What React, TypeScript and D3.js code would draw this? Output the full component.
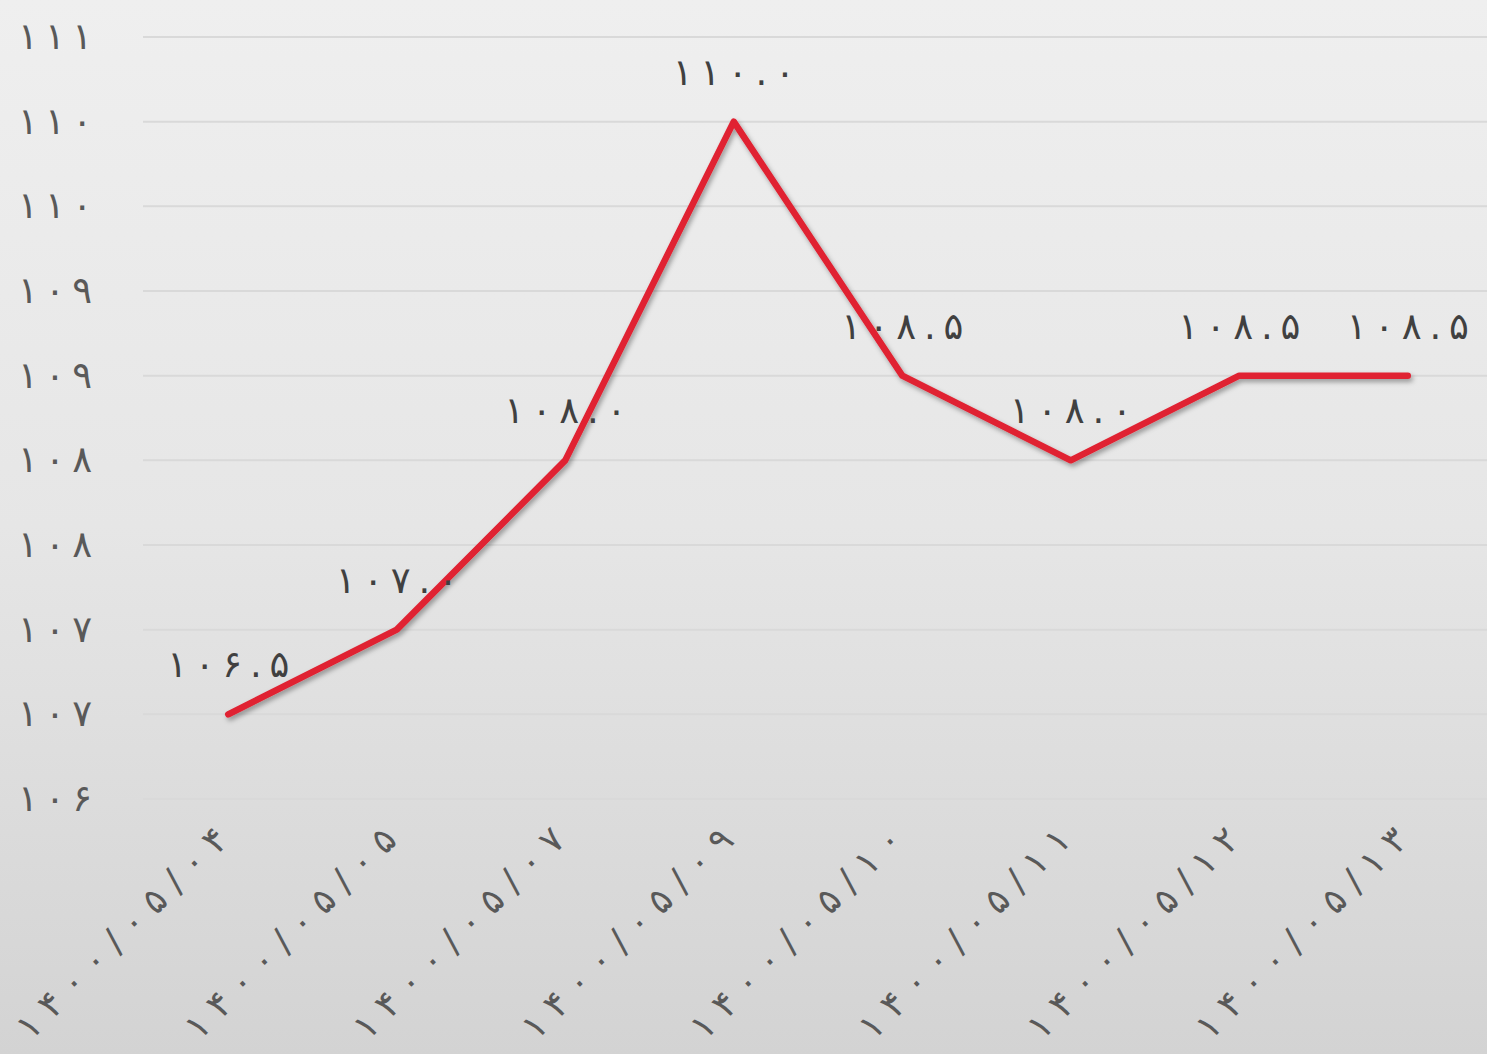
import React from "react";
import * as d3 from "d3";

const categories = [
  "۱۴۰۰/۰۵/۰۴",
  "۱۴۰۰/۰۵/۰۵",
  "۱۴۰۰/۰۵/۰۷",
  "۱۴۰۰/۰۵/۰۹",
  "۱۴۰۰/۰۵/۱۰",
  "۱۴۰۰/۰۵/۱۱",
  "۱۴۰۰/۰۵/۱۲",
  "۱۴۰۰/۰۵/۱۳",
];
const values = [106.5, 107.0, 108.0, 110.0, 108.5, 108.0, 108.5, 108.5];
const yTicks = [106, 106.5, 107, 107.5, 108, 108.5, 109, 109.5, 110, 110.5];

const W = 1487;
const H = 1054;
const FONT = "'DejaVu Sans', 'Noto Sans', sans-serif";

const faDigits = "۰۱۲۳۴۵۶۷۸۹";
const toFa = (s: string) => s.replace(/[0-9]/g, (d) => faDigits[+d]);

export default function App() {
  const x = d3.scalePoint<string>().domain(categories).range([144, 1492]).padding(0.5);
  const y = d3.scaleLinear().domain([106, 110.5]).range([799, 37]);
  const line = d3
    .line<number>()
    .x((_, i) => x(categories[i]) as number)
    .y((d) => y(d));

  return (
    <svg
      width={W}
      height={H}
      style={{ position: "absolute", left: 0, top: 0, display: "block" }}
      fontFamily={FONT}
    >
      <defs>
        <linearGradient id="bg" x1="0" y1="0" x2="0" y2="1">
          <stop offset="0" stopColor="#efefef" />
          <stop offset="0.5" stopColor="#e6e6e6" />
          <stop offset="1" stopColor="#d3d3d3" />
        </linearGradient>
        <filter id="shadow" x="-10%" y="-10%" width="120%" height="130%">
          <feDropShadow dx="2" dy="3" stdDeviation="2.5" floodColor="#000" floodOpacity="0.35" />
        </filter>
      </defs>
      <rect x={0} y={0} width={W} height={H} fill="url(#bg)" />
      {yTicks.map((t) => (
        <g key={t}>
          <line x1={143} x2={W} y1={y(t)} y2={y(t)} stroke="#d9d9d9" strokeWidth={2} />
          <text
            x={18}
            y={y(t)}
            dy="0.32em"
            fontSize={37}
            fill="#595959"
            textLength={74}
            lengthAdjust="spacing"
          >
            {toFa(String(Math.round(t)))}
          </text>
        </g>
      ))}
      <path
        d={line(values) || ""}
        fill="none"
        stroke="#e02030"
        strokeWidth={6.5}
        strokeLinecap="round"
        strokeLinejoin="round"
        filter="url(#shadow)"
      />
      {values.map((v, i) => (
        <text
          key={i}
          x={x(categories[i]) as number}
          y={y(v) - 37}
          textAnchor="middle"
          fontSize={37}
          fill="#404040"
          textLength={122}
          lengthAdjust="spacing"
        >
          {toFa(v.toFixed(1))}
        </text>
      ))}
      {categories.map((c) => {
        const cx = x(c) as number;
        return (
          <text
            key={c}
            transform={`translate(${cx + 2},${842}) rotate(-45)`}
            textAnchor="end"
            fontSize={36}
            fill="#595959"
            textLength={282}
            lengthAdjust="spacing"
          >
            {c}
          </text>
        );
      })}
    </svg>
  );
}
